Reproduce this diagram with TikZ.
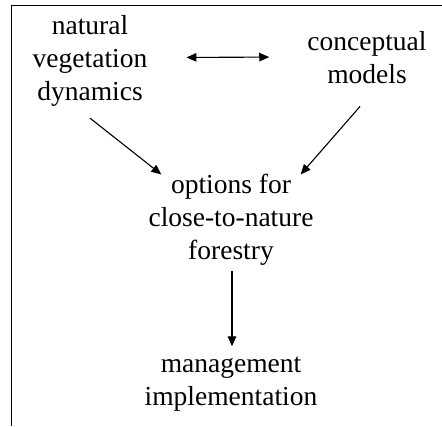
\documentclass[tikz,border=0pt]{standalone}
\usepackage{fontspec}
\setmainfont{Liberation Serif}
\usetikzlibrary{arrows.meta,calc}
\tikzset{
  lbl/.style={align=center,inner sep=0pt,anchor=base,
    font=\fontsize{27.5}{33}\selectfont},
  arr/.style={-{Triangle[length=10pt,width=8.5pt]},line width=1.1pt},
  biarr/.style={{Triangle[length=10pt,width=8.5pt]}-{Triangle[length=10pt,width=8.5pt]},line width=1.1pt}
}
\begin{document}
\begin{tikzpicture}[x=1pt,y=1pt]
\useasboundingbox (0,-426) rectangle (442,0);
% frame lines along the left and top edges
\draw[line width=1.5pt] (11.5,-426) -- (11.5,-5.5) -- (442,-5.5);
% concepts (anchored on the baseline of their last line)
\node[lbl] (nat) at (90,-100) {natural\\vegetation\\dynamics};
\node[lbl] (con) at (367,-83) {conceptual\\models};
\node[lbl] (opt) at (231,-259) {options for\\close-to-nature\\forestry};
\node[lbl] (man) at (231,-405) {management\\implementation};
% connectors
\draw[biarr] ($(nat.east)+(39,3)$) -- ($(con.west)+(-38,0)$);
\draw[arr] ($(nat.south)+(0,-12)$) -- ($(opt.north west)+(13,-1)$);
\draw[arr] ($(con.south)+(-7,-23)$) -- ($(opt.north east)+(-13,-1)$);
\draw[arr] ($(opt.south)+(1,-6)$) -- ($(man.north)+(1,10)$);
\end{tikzpicture}
\end{document}
